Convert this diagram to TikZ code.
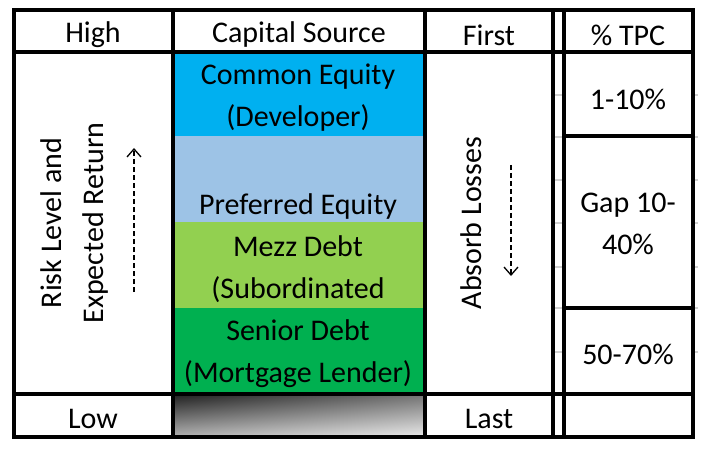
\documentclass[tikz,border=0pt]{standalone}
\usepackage{fontspec}
\setmainfont{Carlito}
\usetikzlibrary{arrows.meta,shadings}
\definecolor{ceq}{HTML}{00B0F0}
\definecolor{peq}{HTML}{9DC3E6}
\definecolor{mezz}{HTML}{92D050}
\definecolor{senior}{HTML}{00B050}
\tikzset{
  grid/.style={line width=3.2pt, line cap=rect},
  tick/.style={line width=2pt, black!18},
  txt/.style={font=\fontsize{30}{42}\selectfont, align=center, inner sep=0pt},
  dasharrow/.style={line width=1.3pt, dash pattern=on 5pt off 3pt, -{Straight Barb[length=8pt,width=14pt,line width=1.3pt]}}
}
\begin{document}
\begin{tikzpicture}[x=1pt,y=-1pt]
\useasboundingbox (0,0) rectangle (704,457);
% fills
\fill[ceq] (173,52) rectangle (425,136);
\fill[peq] (173,136) rectangle (425,222);
\fill[mezz] (173,222) rectangle (425,308);
\fill[senior] (173,308) rectangle (425,394);
\shade[upper left=black!88, upper right=black!55, lower left=black!30, lower right=black!8] (173,394) rectangle (425,437);
% faint grid ticks
\foreach \yy in {95,137,180,223,267,308,352} {
  \draw[tick] (555,\yy) -- (562,\yy);
  \draw[tick] (695,\yy) -- (698,\yy);
}
% table lines
\draw[grid] (14,10) -- (693,10);
\draw[grid] (14,52) -- (693,52);
\draw[grid] (14,394) -- (693,394);
\draw[grid] (14,437) -- (693,437);
\draw[grid] (564,136) -- (693,136);
\draw[grid] (564,308) -- (693,308);
\foreach \xx in {14,173,425,553,564,693} \draw[grid] (\xx,10) -- (\xx,437);
% header texts
\node[txt] (high) at (93,35) {High};
\node[txt] (capsrc) at (299,35) {Capital Source};
\node[txt] (first) at (489,35) {First};
\node[txt] (tpc) at (628,35) {\% TPC};
% capital stack
\node[txt] (common) at (298,98) {Common Equity\\(Developer)};
\node[txt] (pref) at (298,207) {Preferred Equity};
\node[txt] (mezzt) at (298,269) {Mezz Debt\\(Subordinated};
\node[txt] (seniort) at (298,354) {Senior Debt\\(Mortgage Lender)};
% bottom row
\node[txt] (low) at (93,419) {Low};
\node[txt] (last) at (489,419) {Last};
% percentages
\node[txt] (p1) at (628,99) {1-10\%};
\node[txt] (p2) at (628,224) {Gap 10-\\40\%};
\node[txt] (p3) at (628,354) {50-70\%};
% rotated labels
\node[txt, rotate=90] (risk) at (75,223) {Risk Level and\\Expected Return};
\node[txt, rotate=90] (absorb) at (471,223) {Absorb Losses};
% arrows
\coordinate (r1) at (134,292);
\coordinate (r2) at (134,148);
\draw[dasharrow] (r1) -- (r2);
\coordinate (a1) at (511,165);
\coordinate (a2) at (511,276);
\draw[dasharrow] (a1) -- (a2);
\end{tikzpicture}
\end{document}
